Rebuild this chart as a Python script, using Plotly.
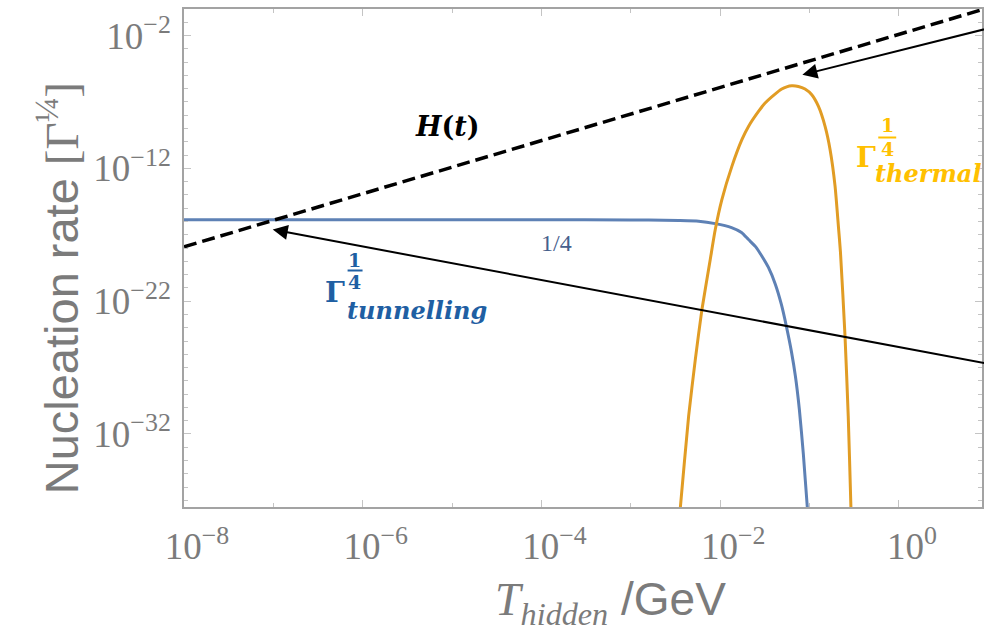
import plotly.graph_objects as go

# ---------------- data (log10 values) ----------------
log_T_tunnel = [-8.0, -6.0, -4.0, -3.0, -2.799, -2.464, -2.241, -2.055, -1.873, -1.761,
                -1.683, -1.604, -1.538, -1.460, -1.382, -1.315, -1.259, -1.203, -1.158,
                -1.114, -1.069, -1.025, -0.99]
log_G_tunnel = [-15.87, -15.87, -15.87, -15.88, -15.89, -15.93, -15.98, -16.16, -16.46, -16.83,
                -17.36, -17.89, -18.56, -19.46, -20.74, -22.25, -23.9, -25.78, -27.66,
                -30.14, -33.53, -37.5, -40.0]

log_T_thermal = [-2.47, -2.445, -2.353, -2.278, -2.204, -2.111, -2.055, -1.981, -1.869, -1.757,
                 -1.683, -1.571, -1.497, -1.386, -1.311, -1.256, -1.200, -1.125, -1.050, -0.975,
                 -0.900, -0.826, -0.770, -0.714, -0.677, -0.654, -0.603, -0.567, -0.537, -0.53]
log_G_thermal = [-39.5, -37.5, -30.65, -26.38, -22.62, -18.86, -16.61, -14.35, -11.85, -9.84,
                 -8.84, -7.71, -7.08, -6.41, -6.03, -5.86, -5.78, -5.83, -6.03, -6.46,
                 -7.34, -8.84, -10.59, -13.35, -16.36, -18.3, -24.63, -30.65, -37.5, -39.5]

log_T_hubble = [-8.0, 0.93]
log_H_hubble = [-17.91, -0.05]

# arrows: (tail x, tail y) -> (head x, head y), log10 units
arrow_tunnel = dict(tail=(1.2, -26.97), head=(-7.007, -16.61))
arrow_thermal = dict(tail=(1.2, -1.12), head=(-1.08, -4.955))

x_tick_exp = [-8, -6, -4, -2, 0]
x_minor_exp = [-7, -5, -3, -1]
y_tick_exp = [-2, -12, -22, -32]
y_minor_exp = [e for e in range(-1, -38, -1) if e not in y_tick_exp]


def tolin(v):
    return [10 ** e for e in v]


def sup_label(e):
    s = str(e).replace('-', '\u2212')
    return '10<sup>' + s + '</sup>'


# ---------------- figure ----------------
BLUE = '#5E81B5'
ORANGE = '#E19C24'
GRAY = '#7b7b7b'

fig = go.Figure()
fig.add_trace(go.Scatter(x=tolin(log_T_tunnel), y=tolin(log_G_tunnel), mode='lines',
                         line=dict(color=BLUE, width=3, shape='spline', smoothing=0.5)))
fig.add_trace(go.Scatter(x=tolin(log_T_thermal), y=tolin(log_G_thermal), mode='lines',
                         line=dict(color=ORANGE, width=3, shape='spline', smoothing=0.5)))
fig.add_trace(go.Scatter(x=tolin(log_T_hubble), y=tolin(log_H_hubble), mode='lines',
                         line=dict(color='black', width=3.5, dash='13px,6px')))

L, R, T, B = 184, 984, 9, 507
W, H = 984, 629


def P(px, py):
    return dict(x=(px - L) / (R - L), y=(B - py) / (B - T), xref='paper', yref='paper')


ann = []
for a in (arrow_tunnel, arrow_thermal):
    ann.append(dict(x=a['head'][0], y=a['head'][1], ax=a['tail'][0], ay=a['tail'][1],
                    xref='x', yref='y', axref='x', ayref='y', text='', showarrow=True,
                    arrowhead=2, arrowsize=1.5, arrowwidth=2, arrowcolor='black', standoff=0))

SERIF = 'DejaVu Serif'
CM = dict(xanchor='center', yanchor='middle', showarrow=False)
# H(t) label
ann.append(dict(**P(448, 127), **CM, text='<b><i>H</i>(<i>t</i>)</b>',
                font=dict(family=SERIF, size=27, color='black')))
# 1/4 small label
ann.append(dict(**P(557, 243), **CM, text='1/4',
                font=dict(family='Liberation Serif', size=24, color='#46608c')))


def gamma_label(color, gx, gy, fx, f1y, f4y, barx0, barx1, bary, subx, suby, sub):
    out = []
    out.append(dict(**P(gx, gy), **CM, text='<b>Γ</b>',
                    font=dict(family=SERIF, size=28, color=color)))
    out.append(dict(**P(fx, f1y), **CM, text='<b>1</b>',
                    font=dict(family=SERIF, size=19, color=color)))
    out.append(dict(**P(fx, f4y), **CM, text='<b>4</b>',
                    font=dict(family=SERIF, size=19, color=color)))
    out.append(dict(**P(subx, suby), text='<b><i>' + sub + '</i></b>', showarrow=False,
                    xanchor='left', yanchor='middle', font=dict(family=SERIF, size=24, color=color)))
    shp = dict(type='line', xref='paper', yref='paper',
               x0=(barx0 - L) / (R - L), x1=(barx1 - L) / (R - L),
               y0=(B - bary) / (B - T), y1=(B - bary) / (B - T),
               line=dict(color=color, width=2))
    return out, shp


a1, s1 = gamma_label('#1F5FA3', 335, 292, 355, 260, 282, 348, 363, 270.5, 345, 310, 'tunnelling')
a2, s2 = gamma_label('#FFC000', 868, 157, 889, 125, 149, 880, 898, 137.5, 875, 173, 'thermal')
ann += a1 + a2

# axis titles
ann.append(dict(**P(58, 288), **CM, textangle=-90,
                text='Nucleation rate <span style="font-family:Liberation Serif">[Γ<sup>¼</sup>]</span>',
                font=dict(family='Liberation Sans', size=47, color=GRAY)))
ann.append(dict(**P(612, 602), **CM,
                text='<span style="font-family:Liberation Serif"><i>T</i><sub><i>hidden</i></sub></span> /GeV',
                font=dict(family='Liberation Sans', size=46, color=GRAY)))

axis_common = dict(type='log', showgrid=False, zeroline=False, showline=True, linecolor='#a3a3a3',
                   linewidth=1.5, mirror='allticks', ticks='inside', ticklen=7, tickwidth=1,
                   tickcolor='#c4c4c4',
                   tickfont=dict(family='Liberation Serif', size=37, color=GRAY))

fig.update_layout(
    width=W, height=H, margin=dict(l=L, r=W - R, t=T, b=H - B),
    plot_bgcolor='white', paper_bgcolor='white', showlegend=False,
    xaxis=dict(**axis_common, range=[-8, 0.93],
               tickvals=[10 ** e for e in x_tick_exp], ticktext=[sup_label(e) for e in x_tick_exp],
               minor=dict(tickvals=[10 ** e for e in x_minor_exp], ticks='inside', ticklen=4,
                          tickcolor='#c4c4c4'),
               ticklabelshift=13, ticklabelstandoff=6),
    yaxis=dict(**axis_common, range=[-37.5, 0],
               tickvals=[10 ** e for e in y_tick_exp], ticktext=[sup_label(e) for e in y_tick_exp],
               minor=dict(tickvals=[10 ** e for e in y_minor_exp], ticks='inside', ticklen=4,
                          tickcolor='#c4c4c4'),
               ticklabelstandoff=4),
    annotations=ann,
    shapes=[s1, s2],
)

fig.write_html('out.html')
